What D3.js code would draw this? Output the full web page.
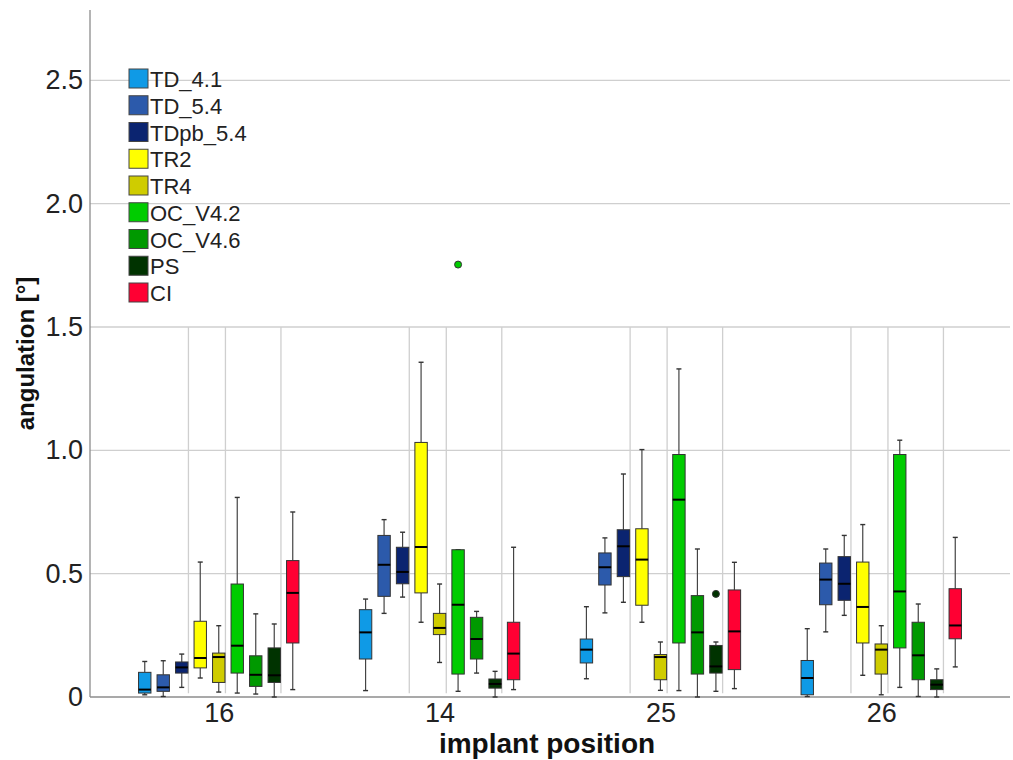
<!DOCTYPE html>
<html>
<head>
<meta charset="utf-8">
<script src="https://cdn.jsdelivr.net/npm/d3@7"></script>
<style>
  body { margin: 0; background: #fff; }
  svg { display: block; font-family: Arial, "Liberation Sans", sans-serif; }
</style>
</head>
<body>
<div class="plot"></div>
<script>
// Data
const positions = ["16", "14", "25", "26"];
const series = ["TD_4.1", "TD_5.4", "TDpb_5.4", "TR2", "TR4", "OC_V4.2", "OC_V4.6", "PS", "CI"];
const colors = ["#0f9ae6", "#2c5aab", "#0b2470", "#ffff00", "#cfcc00", "#00cc00", "#009900", "#003300", "#ff0033"];

// rows = positions, columns = series
const whiskerLow = [
  [0.009, 0.002, 0.039, 0.077, 0.020, 0.016, 0.012, 0.000, 0.030],
  [0.026, 0.339, 0.405, 0.303, 0.140, 0.023, 0.097, 0.000, 0.030],
  [0.074, 0.341, 0.384, 0.303, 0.027, 0.026, 0.000, 0.023, 0.034],
  [0.002, 0.264, 0.331, 0.088, 0.009, 0.039, 0.002, 0.000, 0.122]
];
const q1 = [
  [0.016, 0.023, 0.097, 0.118, 0.059, 0.097, 0.043, 0.059, 0.219],
  [0.154, 0.408, 0.459, 0.422, 0.253, 0.093, 0.154, 0.036, 0.070],
  [0.138, 0.454, 0.488, 0.372, 0.070, 0.219, 0.093, 0.097, 0.111],
  [0.009, 0.374, 0.392, 0.219, 0.093, 0.199, 0.070, 0.030, 0.236]
];
const median = [
  [0.030, 0.039, 0.120, 0.158, 0.162, 0.208, 0.090, 0.088, 0.422],
  [0.262, 0.536, 0.507, 0.608, 0.280, 0.374, 0.235, 0.053, 0.176],
  [0.192, 0.526, 0.611, 0.557, 0.162, 0.800, 0.262, 0.124, 0.266],
  [0.077, 0.476, 0.459, 0.365, 0.192, 0.428, 0.169, 0.050, 0.290]
];
const q3 = [
  [0.100, 0.090, 0.142, 0.307, 0.178, 0.458, 0.167, 0.199, 0.553],
  [0.354, 0.655, 0.607, 1.032, 0.339, 0.597, 0.323, 0.073, 0.303],
  [0.235, 0.584, 0.678, 0.682, 0.172, 0.983, 0.411, 0.209, 0.434],
  [0.148, 0.543, 0.569, 0.547, 0.215, 0.983, 0.303, 0.070, 0.439]
];
const whiskerHigh = [
  [0.144, 0.147, 0.174, 0.547, 0.289, 0.809, 0.337, 0.296, 0.750],
  [0.397, 0.719, 0.668, 1.357, 0.458, 0.597, 0.347, 0.104, 0.607],
  [0.366, 0.645, 0.904, 1.003, 0.223, 1.330, 0.600, 0.223, 0.546],
  [0.277, 0.600, 0.655, 0.699, 0.289, 1.041, 0.377, 0.114, 0.647]
];
// [position, series, value]
const outliers = [
  ["14", "OC_V4.2", 1.753],
  ["25", "PS", 0.418]
];
const yTicks = [0, 0.5, 1.0, 1.5, 2.0, 2.5];

const width = 1013, height = 760;
const margin = {top: 10, right: 3, bottom: 63, left: 90};

const svg = d3.select(".plot")
  .append("svg")
    .attr("width", width)
    .attr("height", height);

const y = d3.scaleLinear()
  .domain([0, 2.785])
  .range([height - margin.bottom, margin.top]);

const x = d3.scalePoint()
  .domain(positions)
  .range([margin.left, width - margin.right])
  .padding(0.583);

const inner = d3.scaleBand()
  .domain(series)
  .range([-83.25, 83.25])
  .paddingInner(0.33)
  .paddingOuter(0.165);

const color = d3.scaleOrdinal().domain(series).range(colors);

// horizontal grid
svg.append("g")
  .selectAll("line")
  .data(yTicks.filter(d => d > 0))
  .join("line")
    .attr("x1", margin.left)
    .attr("x2", width - margin.right)
    .attr("y1", d => y(d))
    .attr("y2", d => y(d))
    .attr("stroke", "#cfcfcf")
    .attr("stroke-width", 1.3);

// vertical separator lines inside groups
const sepSeries = ["TDpb_5.4", "TR4", "PS"];
svg.append("g")
  .selectAll("line")
  .data(positions.flatMap(p => sepSeries.map(s => x(p) + inner(s) + inner.bandwidth() + 0.5)))
  .join("line")
    .attr("x1", d => d)
    .attr("x2", d => d)
    .attr("y1", y(1.5))
    .attr("y2", y(0.015))
    .attr("stroke", "#cfcfcf")
    .attr("stroke-width", 1.3);

// y axis
const yAxis = svg.append("g")
  .attr("transform", `translate(${margin.left},0)`)
  .call(d3.axisLeft(y).tickValues(yTicks).tickSize(0).tickPadding(7)
    .tickFormat(d => d === 0 ? "0" : d3.format(".1f")(d)));
yAxis.select(".domain").attr("stroke", "#8c8c8c").attr("stroke-width", 1.3)
  .attr("d", `M0,${margin.top}V${y(0)}`);
yAxis.selectAll("text")
  .style("font-size", "27px")
  .style("font-family", "Arial, 'Liberation Sans', sans-serif")
  .attr("fill", "#222");

// x axis
const xAxis = svg.append("g")
  .attr("transform", `translate(0,${y(0)})`)
  .call(d3.axisBottom(x).tickSize(0).tickPadding(6));
xAxis.select(".domain").attr("stroke", "#8c8c8c").attr("stroke-width", 1.3)
  .attr("d", `M${margin.left},0H${width - margin.right}`);
xAxis.selectAll("text")
  .style("font-size", "27px")
  .style("font-family", "Arial, 'Liberation Sans', sans-serif")
  .attr("fill", "#222");

// axis titles
svg.append("text")
  .attr("x", 547)
  .attr("y", 753)
  .attr("text-anchor", "middle")
  .style("font-size", "28px")
  .style("font-weight", "bold")
  .attr("fill", "#111")
  .text("implant position");

svg.append("text")
  .attr("transform", `translate(34,${(margin.top + y(0)) / 2}) rotate(-90)`)
  .attr("text-anchor", "middle")
  .style("font-size", "24px")
  .style("font-weight", "bold")
  .attr("fill", "#111")
  .text("angulation [°]");

// boxes
const boxes = positions.flatMap((p, i) => series.map((s, j) => ({
  pos: p, ser: s,
  lo: whiskerLow[i][j], q1: q1[i][j], med: median[i][j], q3: q3[i][j], hi: whiskerHigh[i][j]
})));

const bw = inner.bandwidth();
const g = svg.append("g")
  .selectAll("g")
  .data(boxes)
  .join("g")
    .attr("transform", d => `translate(${x(d.pos) + inner(d.ser)},0)`);

// whiskers
g.append("line")
  .attr("x1", bw / 2).attr("x2", bw / 2)
  .attr("y1", d => y(d.hi)).attr("y2", d => y(d.q3))
  .attr("stroke", "#444").attr("stroke-width", 1.2);
g.append("line")
  .attr("x1", bw / 2).attr("x2", bw / 2)
  .attr("y1", d => y(d.q1)).attr("y2", d => y(d.lo))
  .attr("stroke", "#444").attr("stroke-width", 1.2);
// caps
g.append("line")
  .attr("x1", bw / 2 - 2.5).attr("x2", bw / 2 + 2.5)
  .attr("y1", d => y(d.hi)).attr("y2", d => y(d.hi))
  .attr("stroke", "#333").attr("stroke-width", 1.4);
g.append("line")
  .attr("x1", bw / 2 - 2.5).attr("x2", bw / 2 + 2.5)
  .attr("y1", d => y(d.lo)).attr("y2", d => y(d.lo))
  .attr("stroke", "#333").attr("stroke-width", 1.4);

g.append("rect")
  .attr("x", 0)
  .attr("width", bw)
  .attr("y", d => y(d.q3))
  .attr("height", d => y(d.q1) - y(d.q3))
  .attr("fill", d => color(d.ser))
  .attr("stroke", "#333")
  .attr("stroke-width", 1);

g.append("line")
  .attr("x1", 0).attr("x2", bw)
  .attr("y1", d => y(d.med)).attr("y2", d => y(d.med))
  .attr("stroke", "#000").attr("stroke-width", 2);

// outliers
svg.append("g")
  .selectAll("circle")
  .data(outliers)
  .join("circle")
    .attr("cx", d => x(d[0]) + inner(d[1]) + bw / 2)
    .attr("cy", d => y(d[2]))
    .attr("r", 3.5)
    .attr("fill", d => color(d[1]))
    .attr("stroke", "#333")
    .attr("stroke-width", 1);

// legend
const legend = svg.append("g")
  .attr("transform", "translate(129,69)");
const item = legend.selectAll("g")
  .data(series)
  .join("g")
    .attr("transform", (d, i) => `translate(0,${i * 26.75})`);
item.append("rect")
  .attr("width", 19).attr("height", 19)
  .attr("fill", d => color(d))
  .attr("stroke", "#444").attr("stroke-width", 1);
item.append("text")
  .attr("x", 21)
  .attr("y", 18)
  .style("font-size", "22px")
  .attr("fill", "#222")
  .text(d => d);
</script>
</body>
</html>
